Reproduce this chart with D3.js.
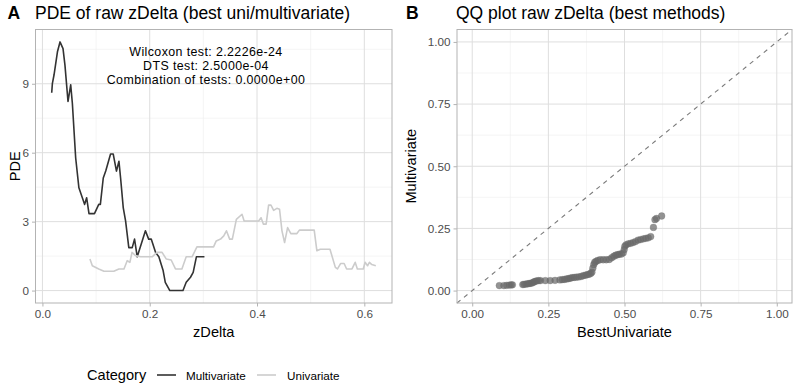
<!DOCTYPE html>
<html><head><meta charset="utf-8">
<script src="https://cdn.jsdelivr.net/npm/d3@7"></script>
<style>body{margin:0;background:#fff}svg{display:block}text{font-family:"Liberation Sans",Arial,sans-serif}</style>
</head><body><svg id="c" width="800" height="385"></svg>
<script>
// ---- data ----
const multiZ = [0.0173,0.0186,0.0216,0.028,0.0328,0.0384,0.042,0.0477,0.0527,0.0558,0.062,0.068,0.0744,0.0787,0.0824,0.0868,0.097,0.105,0.108,0.1134,0.118,0.127,0.132,0.138,0.1426,0.1457,0.1507,0.155,0.161,0.1674,0.1717,0.1767,0.192,0.198,0.2028,0.211,0.217,0.225,0.229,0.2375,0.262,0.268,0.276,0.281,0.287,0.302];
const multiPDE = [8.61,9.02,9.38,10.39,10.82,10.53,9.81,8.23,8.95,8.15,5.77,4.47,4.04,3.75,4.04,3.35,3.35,3.75,3.75,4.9,5.2,5.94,5.94,5.2,5.63,4.9,3.6,3.03,1.87,1.87,2.24,1.47,2.6,2.24,2.24,1.66,1.47,0.87,0.36,0,0,0.36,0.58,0.79,1.47,1.47];
const uniZ = [0.0886,0.093,0.105,0.1147,0.133,0.1426,0.152,0.158,0.163,0.167,0.1736,0.183,0.2046,0.2135,0.223,0.231,0.24,0.248,0.26,0.268,0.279,0.288,0.319,0.324,0.332,0.338,0.343,0.349,0.354,0.3615,0.372,0.376,0.403,0.4075,0.412,0.417,0.4216,0.426,0.431,0.437,0.442,0.4465,0.4514,0.457,0.463,0.4744,0.479,0.5066,0.5116,0.518,0.536,0.546,0.55,0.556,0.5624,0.567,0.577,0.583,0.587,0.598,0.6015,0.606,0.6095,0.614,0.6214];
const uniPDE = [1.37,1.08,0.94,0.84,0.84,0.94,0.94,1.3,1.23,1.66,1.52,1.47,1.47,1.66,1.66,1.37,1.33,0.94,0.94,1.47,1.47,1.9,1.9,2.16,2.24,2.38,2.6,2.24,2.24,3.1,3.32,3.03,3.03,3.17,2.89,2.89,3.72,3.72,3.49,3.58,3.54,2.6,2.09,2.74,2.48,2.48,2.63,2.63,1.73,1.8,1.8,1.01,0.94,1.18,1.18,0.94,0.94,1.23,0.94,0.94,1.23,1.08,1.23,1.13,1.08];
const qqUni = [0.089,0.104,0.113,0.122,0.128,0.132,0.166,0.170,0.176,0.181,0.186,0.190,0.195,0.199,0.203,0.207,0.212,0.218,0.224,0.240,0.256,0.272,0.288,0.296,0.303,0.310,0.316,0.322,0.328,0.335,0.342,0.350,0.358,0.365,0.372,0.378,0.384,0.389,0.393,0.396,0.399,0.402,0.406,0.412,0.420,0.430,0.440,0.450,0.458,0.465,0.471,0.477,0.483,0.490,0.496,0.499,0.501,0.505,0.512,0.520,0.528,0.536,0.545,0.553,0.562,0.570,0.578,0.586,0.595,0.600,0.605,0.622];
const qqMulti = [0.020,0.020,0.021,0.022,0.023,0.023,0.024,0.025,0.026,0.027,0.028,0.029,0.030,0.032,0.035,0.037,0.039,0.040,0.040,0.040,0.040,0.041,0.043,0.044,0.045,0.047,0.048,0.050,0.052,0.053,0.054,0.055,0.057,0.060,0.062,0.064,0.066,0.069,0.074,0.090,0.104,0.113,0.117,0.121,0.124,0.124,0.124,0.125,0.132,0.138,0.142,0.144,0.146,0.147,0.152,0.165,0.178,0.184,0.188,0.190,0.193,0.197,0.203,0.205,0.208,0.210,0.212,0.217,0.254,0.285,0.290,0.300];
const categories = ["Multivariate","Univariate"];
const catColors = ["#333333","#cccccc"];
const pdeTicksX = [0,0.2,0.4,0.6], pdeTicksY = [0,3,6,9];
const qqTicks = [0,0.25,0.5,0.75,1];
const testLines = ["Wilcoxon test: 2.2226e-24","DTS test: 2.5000e-04","Combination of tests: 0.0000e+00"];

const svg = d3.select("#c");
const TOP = 29.5, BOT = 303;
const F = '"Liberation Sans",Arial,sans-serif';

function expand(lo, hi){ const r = hi-lo; return [lo-0.05*r, hi+0.05*r]; }

function panel(g, x, y, xMajor, xMinor, yMajor, yMinor, fmtX, fmtY){
  const [x0,x1] = x.range(), [y0,y1] = y.range();
  g.append("rect").attr("x",x0).attr("y",y1).attr("width",x1-x0).attr("height",y0-y1).attr("fill","#fff");
  const grid = g.append("g");
  grid.selectAll(".vmn").data(xMinor).join("line").attr("x1",d=>x(d)).attr("x2",d=>x(d)).attr("y1",y0).attr("y2",y1).attr("stroke","#eeeeee").attr("stroke-width",0.6);
  grid.selectAll(".hmn").data(yMinor).join("line").attr("y1",d=>y(d)).attr("y2",d=>y(d)).attr("x1",x0).attr("x2",x1).attr("stroke","#eeeeee").attr("stroke-width",0.6);
  grid.selectAll(".vmj").data(xMajor).join("line").attr("x1",d=>x(d)).attr("x2",d=>x(d)).attr("y1",y0).attr("y2",y1).attr("stroke","#dedede").attr("stroke-width",1);
  grid.selectAll(".hmj").data(yMajor).join("line").attr("y1",d=>y(d)).attr("y2",d=>y(d)).attr("x1",x0).attr("x2",x1).attr("stroke","#dedede").attr("stroke-width",1);
  const ax = g.append("g").attr("transform",`translate(0,${y0})`).call(d3.axisBottom(x).tickValues(xMajor).tickFormat(fmtX).tickSize(3.5).tickPadding(3));
  const ay = g.append("g").attr("transform",`translate(${x0},0)`).call(d3.axisLeft(y).tickValues(yMajor).tickFormat(fmtY).tickSize(3.5).tickPadding(3));
  [ax,ay].forEach(a=>{a.select(".domain").remove(); a.selectAll(".tick line").attr("stroke","#b3b3b3");
    a.selectAll("text").attr("fill","#4d4d4d").style("font-size","11.7px").style("font-family",F);});
}
function border(g, x, y){
  const [x0,x1] = x.range(), [y0,y1] = y.range();
  g.append("rect").attr("x",x0).attr("y",y1).attr("width",x1-x0).attr("height",y0-y1).attr("fill","none").attr("stroke","#b3b3b3").attr("stroke-width",1);
}

// ---- Panel A ----
const gA = svg.append("g");
const xA = d3.scaleLinear().domain(expand(d3.min(multiZ.concat(uniZ)), d3.max(multiZ.concat(uniZ)))).range([35.5,392]);
const yA = d3.scaleLinear().domain(expand(0, d3.max(multiPDE.concat(uniPDE)))).range([BOT,TOP]);
panel(gA, xA, yA, pdeTicksX, [0.1,0.3,0.5], pdeTicksY, [1.5,4.5,7.5,10.5], d3.format(".1f"), d3.format("d"));
const line = d3.line().x(d=>xA(d[0])).y(d=>yA(d[1]));
const series = [d3.zip(multiZ, multiPDE), d3.zip(uniZ, uniPDE)];
gA.selectAll(".s").data(series).join("path").attr("d",line).attr("fill","none")
  .attr("stroke",(d,i)=>catColors[i]).attr("stroke-width",1.6).attr("stroke-linejoin","round");
border(gA, xA, yA);
gA.selectAll(".tl").data(testLines).join("text").attr("x",206).attr("y",(d,i)=>55.5+i*14.3)
  .attr("text-anchor","middle").style("font-size","12.4px").style("letter-spacing","0.4px").attr("fill","#000").text(d=>d);
gA.append("text").attr("x",xA.range().reduce((a,b)=>a+b)/2).attr("y",337).attr("text-anchor","middle").style("font-size","14.6px").text("zDelta");
gA.append("text").attr("transform",`translate(19.5,${(TOP+BOT)/2}) rotate(-90)`).attr("text-anchor","middle").style("font-size","14.6px").text("PDE");
svg.append("text").attr("x",7.5).attr("y",19).style("font-size","17.5px").style("font-weight","bold").text("A");
svg.append("text").attr("x",35).attr("y",19).style("font-size","17.5px").text("PDE of raw zDelta (best uni/multivariate)");

// ---- Panel B ----
const gB = svg.append("g");
const xB = d3.scaleLinear().domain([-0.05,1.05]).range([457,792]);
const yB = d3.scaleLinear().domain([-0.05,1.05]).range([BOT,TOP]);
panel(gB, xB, yB, qqTicks, [0.125,0.375,0.625,0.875], qqTicks, [0.125,0.375,0.625,0.875], d3.format(".2f"), d3.format(".2f"));
gB.append("line").attr("x1",xB(-0.05)).attr("y1",yB(-0.05)).attr("x2",xB(1.05)).attr("y2",yB(1.05))
  .attr("stroke","#7a7a7a").attr("stroke-width",1.1).attr("stroke-dasharray","4.5,4.5");
gB.selectAll("circle").data(d3.zip(qqUni,qqMulti)).join("circle").attr("cx",d=>xB(d[0])).attr("cy",d=>yB(d[1])).attr("r",3.4)
  .attr("fill","#6a6a6a").attr("fill-opacity",0.72).attr("stroke","#6a6a6a").attr("stroke-opacity",0.5).attr("stroke-width",0.5);
border(gB, xB, yB);
gB.append("text").attr("x",(457+792)/2).attr("y",337).attr("text-anchor","middle").style("font-size","14.6px").text("BestUnivariate");
gB.append("text").attr("transform",`translate(416,${(TOP+BOT)/2}) rotate(-90)`).attr("text-anchor","middle").style("font-size","14.6px").text("Multivariate");
svg.append("text").attr("x",406).attr("y",19).style("font-size","17.5px").style("font-weight","bold").text("B");
svg.append("text").attr("x",456).attr("y",19).style("font-size","17.5px").text("QQ plot raw zDelta (best methods)");

// ---- Legend ----
const lg = svg.append("g");
lg.append("text").attr("x",87).attr("y",380).style("font-size","14.6px").text("Category");
const keyX = [157,257], labX = [186,287];
categories.forEach((c,i)=>{
  lg.append("line").attr("x1",keyX[i]).attr("x2",keyX[i]+19).attr("y1",375).attr("y2",375).attr("stroke",catColors[i]).attr("stroke-width",1.6);
  lg.append("text").attr("x",labX[i]).attr("y",379.5).style("font-size","11.7px").text(c);
});
</script></body></html>
